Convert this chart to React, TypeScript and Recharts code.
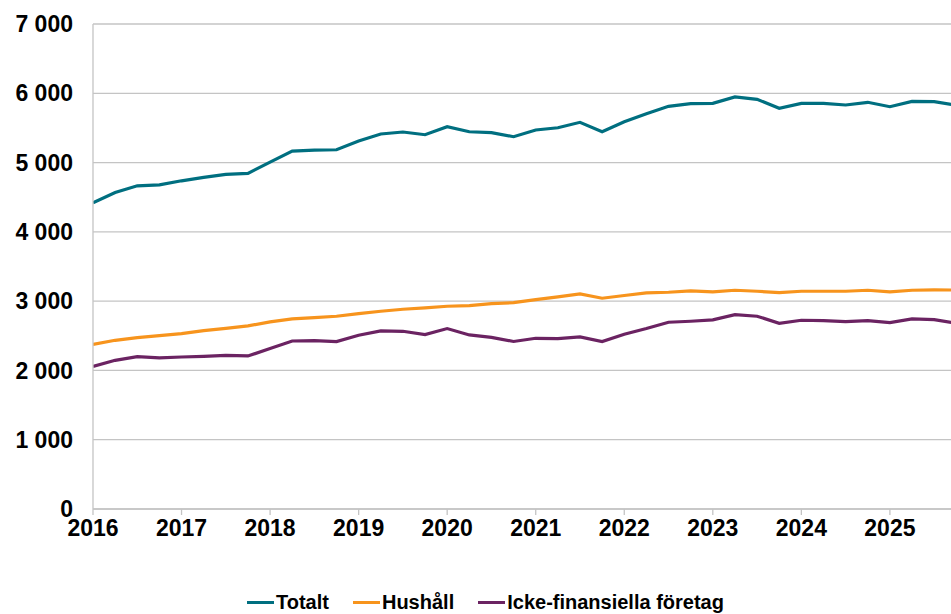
import React from 'react';
import { LineChart, Line, XAxis, YAxis, CartesianGrid, Legend } from 'recharts';

// quarterly, first point 2016 Q1
const totalt = [
  4419, 4569, 4665, 4679, 4737, 4786, 4829, 4844,
  5007, 5166, 5181, 5185, 5311, 5412, 5441, 5402,
  5518, 5445, 5431, 5373, 5470, 5503, 5581, 5445,
  5590, 5705, 5812, 5850, 5855, 5947, 5913, 5783,
  5855, 5855, 5831, 5870, 5806, 5884, 5879, 5828,
];
const hushall = [
  2377, 2435, 2474, 2503, 2532, 2575, 2608, 2642,
  2700, 2743, 2763, 2782, 2821, 2854, 2883, 2902,
  2926, 2936, 2965, 2978, 3023, 3061, 3104, 3042,
  3081, 3118, 3128, 3147, 3133, 3157, 3143, 3124,
  3143, 3143, 3143, 3157, 3133, 3157, 3162, 3160,
];
const ickeFin = [
  2059, 2146, 2199, 2180, 2194, 2204, 2218, 2209,
  2315, 2425, 2430, 2416, 2507, 2570, 2565, 2517,
  2604, 2512, 2478, 2418, 2464, 2459, 2483, 2416,
  2522, 2604, 2695, 2710, 2729, 2806, 2782, 2681,
  2724, 2720, 2705, 2720, 2691, 2743, 2734, 2680,
];
const yearTicks = [2016, 2017, 2018, 2019, 2020, 2021, 2022, 2023, 2024, 2025];
const valueTicks = [0, 1000, 2000, 3000, 4000, 5000, 6000, 7000];

const data = totalt.map((v, i) => ({
  t: 2016 + i / 4,
  totalt: v,
  hushall: hushall[i],
  icke: ickeFin[i],
}));

const FONT = 'Arial, "Liberation Sans", sans-serif';

const series = [
  { key: 'totalt', name: 'Totalt', color: '#006F80' },
  { key: 'hushall', name: 'Hushåll', color: '#F7941D' },
  { key: 'icke', name: 'Icke-finansiella företag', color: '#6B2362' },
];

const fmt = (v: number) => (v >= 1000 ? `${Math.floor(v / 1000)} ${String(v % 1000).padStart(3, '0')}` : String(v));

const LegendBox = () => (
  <div style={{ display: 'flex', alignItems: 'center', height: 24, paddingLeft: 247, fontFamily: FONT, fontWeight: 700, fontSize: 20, color: '#000' }}>
    {series.map((s) => (
      <div key={s.key} style={{ display: 'flex', alignItems: 'center', marginRight: 24 }}>
        <span style={{ display: 'inline-block', width: 27, height: 3, background: s.color, marginRight: 2 }} />
        <span>{s.name}</span>
      </div>
    ))}
  </div>
);

export default function App() {
  return (
    <div style={{ position: 'absolute', left: 0, top: 0, width: 951, height: 614, background: '#fff' }}>
      <LineChart width={951} height={614} data={data} margin={{ top: 24, right: 0, left: 0, bottom: 0 }}>
        <CartesianGrid vertical={false} stroke="#C4C4C4" strokeWidth={1.3} />
        <XAxis
          dataKey="t"
          type="number"
          domain={[2016, 2025.69]}
          allowDataOverflow
          ticks={yearTicks}
          interval={0}
          height={81}
          tickSize={6}
          tickMargin={5}
          stroke="#C4C4C4"
          strokeWidth={1.3}
          tick={{ fill: '#000', fontSize: 23, fontWeight: 700, fontFamily: FONT }}
        />
        <YAxis
          domain={[0, 7000]}
          ticks={valueTicks}
          width={93}
          tickLine={false}
          tickMargin={14}
          tickFormatter={fmt}
          stroke="#C4C4C4"
          strokeWidth={1.3}
          tick={{ fill: '#000', fontSize: 23, fontWeight: 700, fontFamily: FONT }}
        />
        <Legend
          verticalAlign="bottom"
          content={() => <LegendBox />}
          wrapperStyle={{ left: 0, width: 951 }}
        />
        {series.map((s) => (
          <Line
            key={s.key}
            type="linear"
            dataKey={s.key}
            name={s.name}
            stroke={s.color}
            strokeWidth={3.2}
            dot={false}
            activeDot={false}
            isAnimationActive={false}
          />
        ))}
      </LineChart>
    </div>
  );
}
